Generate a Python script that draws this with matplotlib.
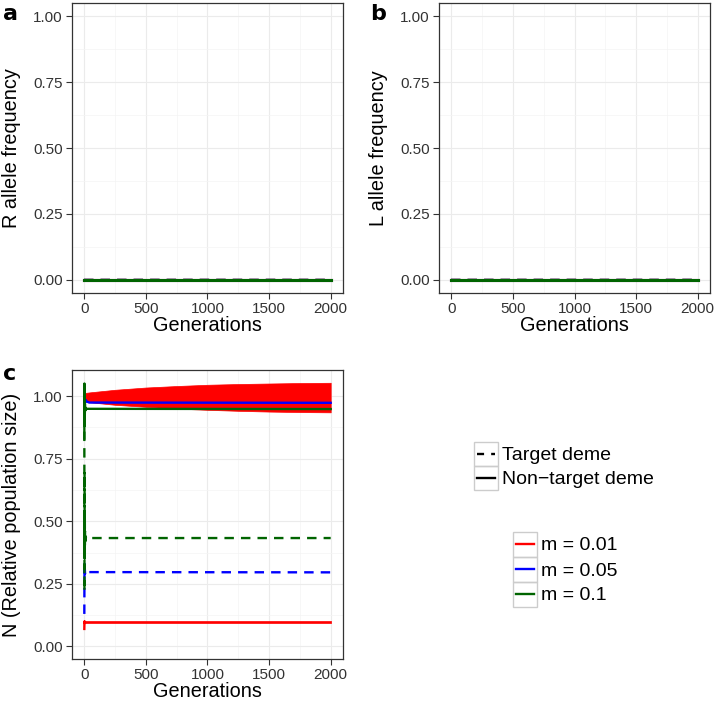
import numpy as np
import matplotlib
matplotlib.use('Agg')
import matplotlib.pyplot as plt
from matplotlib.lines import Line2D
from matplotlib.patches import Rectangle
from matplotlib.ticker import MultipleLocator

plt.rcParams['font.family'] = ['Liberation Sans', 'DejaVu Sans']

# --- données ---
m_labels = ["m = 0.01", "m = 0.05", "m = 0.1"]
m_colors = ["#FF0000", "#0000FF", "#006400"]
deme_labels = ["Target deme", "Non\u2212target deme"]

# panneaux a/b : fréquences alléliques (restent à 0)
gen_ab = [0, 2000]
r_freq = [0.0, 0.0]
l_freq = [0.0, 0.0]

# panneau c : taille relative de population
# m = 0.01 : oscillation rapide -> enveloppes
red_env_t = [0, 50, 250, 500, 750, 1000, 1250, 1500, 1750, 2000]
red_nt_upper = [1.012, 1.015, 1.025, 1.034, 1.040, 1.045, 1.048, 1.050, 1.052, 1.053]
red_nt_lower = [0.985, 0.975, 0.965, 0.957, 0.950, 0.945, 0.941, 0.938, 0.936, 0.935]
red_tg_start_t = [0, 1, 2, 4, 8]
red_tg_start_N = [0.070, 0.100, 0.093, 0.099, 0.096]
red_tg_band_t = [8, 2000]
red_tg_upper = [0.101, 0.101]
red_tg_lower = [0.092, 0.092]

# m = 0.05
blue_tg_t = [0, 1, 2, 3, 4, 6, 8, 12, 20, 2000]
blue_tg_N = [0.13, 0.27, 0.33, 0.28, 0.31, 0.29, 0.30, 0.295, 0.297, 0.296]
blue_nt_t = [0, 1, 2, 3, 4, 6, 10, 20, 40, 2000]
blue_nt_N = [1.044, 0.96, 1.0, 0.97, 0.99, 0.975, 0.985, 0.978, 0.974, 0.973]

# m = 0.1
green_tg_t = [0, 1, 2, 3, 4, 5, 6, 8, 10, 15, 20, 2000]
green_tg_N = [0.99, 0.22, 0.70, 0.35, 0.52, 0.40, 0.46, 0.42, 0.44, 0.43, 0.433, 0.433]
green_nt_t = [0, 1, 2, 3, 4, 5, 6, 8, 10, 15, 2000]
green_nt_N = [0.83, 1.05, 0.88, 1.0, 0.92, 0.97, 0.94, 0.955, 0.945, 0.949, 0.948]

W, H = 714, 701
fig = plt.figure(figsize=(W / 100, H / 100), dpi=100)


def ax_px(x0, y0, x1, y1):
    return fig.add_axes([x0 / W, 1 - y1 / H, (x1 - x0) / W, (y1 - y0) / H])


def style(ax, ylim, ylabel):
    ax.set_xlim(-100, 2100)
    ax.set_ylim(*ylim)
    ax.xaxis.set_major_locator(MultipleLocator(500))
    ax.xaxis.set_minor_locator(MultipleLocator(250))
    ax.yaxis.set_major_locator(MultipleLocator(0.25))
    ax.yaxis.set_minor_locator(MultipleLocator(0.125))
    ax.yaxis.set_major_formatter(plt.FuncFormatter(lambda v, p: f"{v:.2f}"))
    ax.grid(which='major', color='#EBEBEB', lw=0.8)
    ax.grid(which='minor', color='#F4F4F4', lw=0.5)
    ax.set_axisbelow(True)
    ax.tick_params(which='major', length=4, width=0.8, color='#333333',
                   labelsize=11, labelcolor='#333333', pad=2.5)
    ax.tick_params(which='minor', length=0)
    for s in ax.spines.values():
        s.set_color('#333333'); s.set_linewidth(0.9)
    ax.set_xlabel("Generations", fontsize=14.3, labelpad=0)
    ax.set_ylabel(ylabel, fontsize=14.3)
    ax.yaxis.set_label_coords(-0.19, 0.5)


lw = 1.7
dash = (0, (4, 3))

for x0, freq, lab, tag in [(72, r_freq, "R allele frequency", "a"),
                           (439, l_freq, "L allele frequency", "b")]:
    ax = ax_px(x0, 3, x0 + 271, 293)
    for c in m_colors:
        ax.plot(gen_ab, freq, color=c, lw=lw, ls=dash)
    for c in m_colors:
        ax.plot(gen_ab, freq, color=c, lw=2.2)
    style(ax, (-0.05, 1.05), lab)
    fig.text((x0 - 69) / W, 1 - 20 / H, tag, fontsize=16, fontweight='bold',
             family='DejaVu Sans', va='baseline')

axc = ax_px(72, 370, 343, 659)
# m = 0.01
axc.plot(red_tg_start_t, red_tg_start_N, color=m_colors[0], lw=lw)
axc.fill_between(red_tg_band_t, red_tg_lower, red_tg_upper, color=m_colors[0], lw=0.5)
axc.fill_between(red_env_t, red_nt_lower, red_nt_upper, color=m_colors[0], lw=0.5)
# m = 0.05
axc.plot(blue_tg_t, blue_tg_N, color=m_colors[1], lw=lw, ls=dash)
axc.plot(blue_nt_t, blue_nt_N, color=m_colors[1], lw=lw)
# m = 0.1
axc.plot(green_tg_t, green_tg_N, color=m_colors[2], lw=lw, ls=dash)
axc.plot(green_nt_t, green_nt_N, color=m_colors[2], lw=lw)
style(axc, (-0.05, 1.104), "N (Relative population size)")
fig.text(3 / W, 1 - 380 / H, "c", fontsize=16, fontweight='bold',
         family='DejaVu Sans', va='baseline')


# légendes façon ggplot (cases grises)
def legend_px(x0, rows, labels, styles, colors, tx):
    for (yc, h), lab, ls, c in zip(rows, labels, styles, colors):
        fig.add_artist(Rectangle((x0 / W, 1 - (yc + h / 2) / H), 24 / W, h / H,
                                 transform=fig.transFigure, fill=False,
                                 ec='#CCCCCC', lw=1))
        fig.add_artist(Line2D([(x0 + 3) / W, (x0 + 21) / W], [1 - yc / H] * 2,
                              transform=fig.transFigure, color=c, lw=lw, ls=ls))
        fig.text(tx / W, 1 - yc / H, lab, fontsize=14, va='center_baseline')


legend_px(474, [(454, 24), (478, 24)], deme_labels,
          [(0, (3, 3)), '-'], ['black', 'black'], 502)
legend_px(513, [(544, 25), (569, 25), (594, 25)], m_labels,
          ['-', '-', '-'], m_colors, 541)

fig.savefig("out.png", dpi=100)
